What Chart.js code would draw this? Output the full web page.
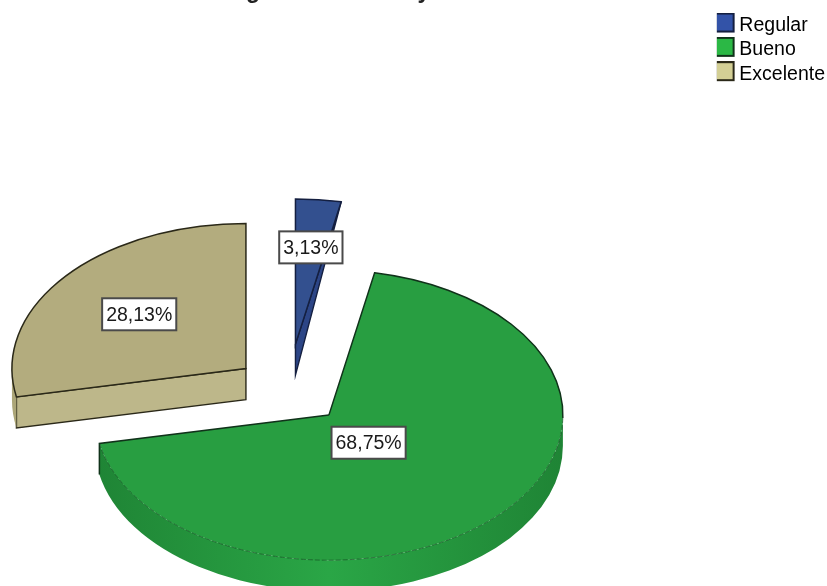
<!DOCTYPE html>
<html>
<head>
<meta charset="utf-8">
<style>
  html, body { margin: 0; padding: 0; background: #fff; }
  #wrap { position: relative; width: 827px; height: 586px; overflow: hidden; }
</style>
</head>
<body>
<div id="wrap"><canvas id="pie" width="827" height="586"></canvas></div>
<script src="https://cdn.jsdelivr.net/npm/chart.js@4/dist/chart.umd.min.js"></script>
<script>
const categories = ["Regular", "Bueno", "Excelente"];
const percentages = [3.13, 68.75, 28.13];

// slice styling, same order as categories
const topColors = ["#33508f", "#289e41", "#b3ac7e"];
const rimColors = ["#2c4586", "#2aa646", "#aca678"];
const cutColors = ["#2c4586", "#23913a", "#bdb78a"];
const legendColors = ["#3353a8", "#2bb845", "#d3cf95"];
const outlineColors = ["#141f40", "#10321a", "#2a2818"];

// exploded distance of each slice, and where its label sits along the radius
const explode = [76, 55, 57];
const explodeNudgeX = [-2, 0, 0];
const labelAt = [0.67, 0.24, 0.59];
const labelNudgeY = [0, 3, 0];
const cutDepthAtRim = [0, 31, 31];

// the heading runs off the top edge, only these descenders stay on the canvas
const headingGlyphs = ["g", "y"];
const headingGlyphX = [253, 424];

const CENTER_X = 290, CENTER_Y = 391, RADIUS = 234, SQUASH = 0.62, DEPTH = 31;
const FONT = "'Liberation Sans', Arial, sans-serif";

function toScreen(chart) {
  const meta = chart.getDatasetMeta(0);
  const area = chart.chartArea;
  const cx = (area.left + area.right) / 2;
  const cy = (area.top + area.bottom) / 2;
  return { meta, tx: CENTER_X - cx, ty: CENTER_Y - cy * SQUASH };
}

// legend swatch sits a little above the middle of its text line,
// so it is drawn high inside a taller canvas
function legendSwatch(i) {
  const c = document.createElement("canvas");
  c.width = 22;
  c.height = 26;
  const g = c.getContext("2d");
  g.fillStyle = legendColors[i];
  g.strokeStyle = outlineColors[i];
  g.lineWidth = 2;
  g.fillRect(1, 1, 18, 18);
  g.strokeRect(1, 1, 18, 18);
  return c;
}

const pie3d = {
  id: "pie3d",
  // push each slice away from the centre along its middle angle
  afterDatasetsUpdate(chart) {
    chart.getDatasetMeta(0).data.forEach((arc, i) => {
      const mid = (arc.startAngle + arc.endAngle) / 2;
      arc.x += Math.cos(mid) * explode[i] + explodeNudgeX[i];
      arc.y += Math.sin(mid) * explode[i];
    });
  },
  beforeDatasetsDraw(chart) {
    const { ctx } = chart;
    const { meta, tx, ty } = toScreen(chart);
    meta.data.forEach((arc, i) => {
      const ax = arc.x + tx, ay = arc.y * SQUASH + ty;
      const r = arc.outerRadius, ry = r * SQUASH;
      const s = arc.startAngle, e = arc.endAngle;

      // flat cut faces that turn towards the viewer
      [[s, Math.cos(s) < -1e-6], [e, Math.cos(e) > 1e-6]].forEach(([a, visible]) => {
        if (!visible) return;
        const rimX = ax + r * Math.cos(a), rimY = ay + ry * Math.sin(a);
        ctx.beginPath();
        ctx.moveTo(ax, ay);
        ctx.lineTo(rimX, rimY);
        ctx.lineTo(rimX, rimY + cutDepthAtRim[i]);
        ctx.lineTo(ax, ay + DEPTH);
        ctx.closePath();
        ctx.fillStyle = cutColors[i];
        ctx.fill();
        ctx.strokeStyle = outlineColors[i];
        ctx.lineWidth = 1.4;
        ctx.stroke();
      });

      // curved rim, only the front half of the ellipse shows
      const from = Math.max(s, 0), to = Math.min(e, Math.PI);
      if (to > from) {
        const shade = ctx.createLinearGradient(ax - r, 0, ax + r, 0);
        shade.addColorStop(0, "#1f8435");
        shade.addColorStop(0.5, rimColors[i]);
        shade.addColorStop(1, "#1f8435");
        ctx.beginPath();
        ctx.ellipse(ax, ay, r, ry, 0, from, to);
        ctx.ellipse(ax, ay + DEPTH, r, ry, 0, to, from, true);
        ctx.closePath();
        ctx.fillStyle = i === 1 ? shade : rimColors[i];
        ctx.fill();
      }
    });
    ctx.save();
    ctx.translate(tx, ty);
    ctx.scale(1, SQUASH);
  },
  afterDatasetsDraw(chart) {
    const { ctx } = chart;
    ctx.restore();
    const { meta, tx, ty } = toScreen(chart);
    meta.data.forEach((arc, i) => {
      const ax = arc.x + tx, ay = arc.y * SQUASH + ty;
      const r = arc.outerRadius, ry = r * SQUASH;
      const s = arc.startAngle, e = arc.endAngle;

      // dark outline on the back of the slice, dashed hairline along the front rim
      const solidEnd = i === 1 ? 0.02 : e;
      ctx.beginPath();
      ctx.moveTo(ax, ay);
      ctx.ellipse(ax, ay, r, ry, 0, s, solidEnd);
      if (i !== 1) ctx.closePath();
      ctx.strokeStyle = outlineColors[i];
      ctx.lineWidth = 1.5;
      ctx.stroke();
      if (i === 1) {
        ctx.beginPath();
        ctx.moveTo(ax, ay);
        ctx.lineTo(ax + r * Math.cos(e), ay + ry * Math.sin(e));
        ctx.lineTo(ax + r * Math.cos(e), ay + ry * Math.sin(e) + DEPTH);
        ctx.stroke();
        ctx.beginPath();
        ctx.ellipse(ax, ay, r, ry, 0, solidEnd, e);
        ctx.setLineDash([5, 2]);
        ctx.strokeStyle = "rgba(16,70,30,0.75)";
        ctx.lineWidth = 0.8;
        ctx.stroke();
        ctx.setLineDash([]);
      }

      // value box
      const mid = (s + e) / 2;
      const lx = ax + Math.cos(mid) * r * labelAt[i];
      const ly = ay + Math.sin(mid) * ry * labelAt[i] + labelNudgeY[i];
      const text = percentages[i].toFixed(2).replace(".", ",") + "%";
      ctx.font = "19.5px " + FONT;
      const w = ctx.measureText(text).width + 8, h = 32;
      ctx.fillStyle = "#fff";
      ctx.fillRect(lx - w / 2, ly - h / 2, w, h);
      ctx.strokeStyle = "#4a4a4a";
      ctx.lineWidth = 2;
      ctx.strokeRect(lx - w / 2, ly - h / 2, w, h);
      ctx.fillStyle = "#1a1a1a";
      ctx.textAlign = "center";
      ctx.textBaseline = "middle";
      ctx.fillText(text, lx, ly + 1);
    });
  },
  afterDraw(chart) {
    const { ctx } = chart;
    ctx.save();
    ctx.font = "bold 23px " + FONT;
    ctx.fillStyle = "#222";
    ctx.textAlign = "center";
    ctx.textBaseline = "alphabetic";
    headingGlyphs.forEach((glyph, i) => ctx.fillText(glyph, headingGlyphX[i], -2));
    ctx.restore();
  }
};

new Chart(document.getElementById("pie"), {
  type: "pie",
  data: {
    labels: categories,
    datasets: [{
      data: percentages,
      backgroundColor: topColors,
      borderWidth: 0,
      clip: false
    }]
  },
  options: {
    responsive: false,
    animation: false,
    radius: RADIUS,
    layout: { padding: { top: 11, right: -8 } },
    plugins: {
      tooltip: { enabled: false },
      legend: {
        position: "right",
        align: "start",
        onClick: null,
        labels: {
          font: { family: FONT, size: 19.5 },
          color: "#1a1a1a",
          usePointStyle: true,
          boxWidth: 8,
          boxHeight: 18,
          padding: 4.8,
          generateLabels: () => categories.map((name, i) => ({
            text: name,
            pointStyle: legendSwatch(i),
            index: i
          }))
        }
      }
    }
  },
  plugins: [pie3d]
});
</script>
</body>
</html>
